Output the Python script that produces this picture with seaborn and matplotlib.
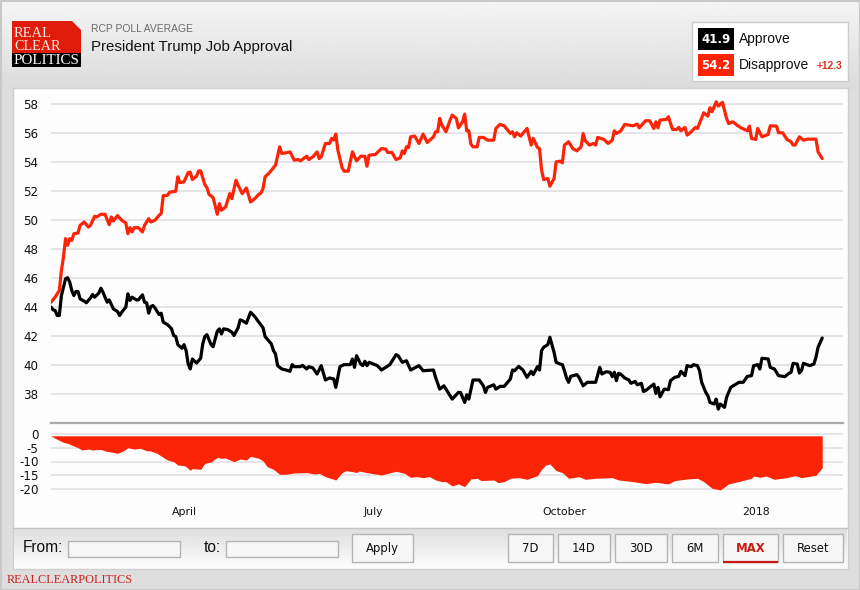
import numpy as np
import pandas as pd
import matplotlib
matplotlib.use('Agg')
import matplotlib.pyplot as plt
from matplotlib.patches import Rectangle, Polygon
import seaborn as sns

start_date = '2017-01-27'
end_date = '2018-02-12'

red_days = [0, 2, 4, 5, 6, 7, 8, 9, 10, 11,
            13, 14, 16, 18, 19, 21, 22, 24, 26, 28,
            29, 30, 32, 34, 36, 37, 38, 39, 40, 42,
            44, 45, 47, 48, 50, 52, 53, 54, 56, 57,
            60, 61, 62, 64, 66, 67, 68, 70, 71, 72,
            74, 75, 76, 78, 80, 81, 82, 84, 86, 87,
            89, 90, 92, 94, 96, 98, 100, 101, 102, 103,
            105, 108, 110, 111, 114, 115, 117, 119, 120, 123,
            124, 126, 128, 129, 130, 132, 134, 135, 136, 137,
            138, 140, 141, 143, 145, 147, 149, 151, 152, 153,
            156, 159, 161, 162, 164, 166, 168, 169, 170, 171,
            172, 173, 175, 177, 179, 181, 184, 185, 186, 187,
            188, 190, 192, 193, 195, 196, 198, 199, 200, 201,
            202, 203, 205, 206, 208, 210, 213, 214, 216, 218,
            219, 221, 222, 223, 224, 226, 227, 229, 231, 232,
            234, 235, 236, 237, 239, 240, 242, 243, 245, 246,
            247, 249, 251, 253, 255, 256, 257, 259, 261, 262,
            263, 266, 268, 270, 271, 272, 274, 276, 278, 280,
            282, 283, 286, 288, 290, 291, 292, 293, 296, 297,
            299, 301, 302, 303, 305, 306, 308, 310, 311, 314,
            316, 317, 318, 320, 321, 323, 325, 326, 328, 330,
            332, 335, 336, 337, 339, 340, 342, 345, 346, 349,
            350, 352, 354, 356, 357, 358, 360, 362, 364, 368,
            369, 371]
disapprove = [44.34, 44.69, 45.15, 46.53, 47.46, 48.73, 48.27, 48.73, 48.61, 49.07,
              49.12, 49.65, 49.88, 49.53, 49.65, 50.27, 50.23, 50.41, 50.41, 49.69,
              50.23, 49.95, 50.32, 50.0, 49.81, 49.07, 49.49, 49.19, 49.49, 49.49,
              49.19, 49.65, 50.11, 49.88, 50.0, 50.34, 50.46, 51.70, 51.72, 51.93,
              52.0, 53.0, 52.6, 52.65, 53.29, 53.32, 52.81, 53.04, 53.41, 53.41,
              52.46, 52.26, 51.79, 51.56, 50.41, 51.15, 50.69, 50.92, 51.84, 51.49,
              52.76, 52.42, 51.84, 52.23, 51.26, 51.49, 51.79, 51.88, 52.19, 53.0,
              53.27, 53.8, 55.07, 54.61, 54.68, 54.72, 54.15, 54.19, 54.10, 54.42,
              54.19, 54.38, 54.72, 54.26, 54.38, 55.30, 55.30, 55.65, 55.53, 55.95,
              54.84, 53.64, 53.39, 53.39, 54.72, 54.10, 54.42, 54.42, 53.73, 54.49,
              54.54, 54.95, 54.91, 54.68, 54.68, 54.19, 54.31, 54.79, 54.61, 55.07,
              55.02, 55.76, 55.81, 55.30, 55.95, 55.37, 55.76, 56.11, 56.11, 57.03,
              56.57, 56.11, 56.92, 57.26, 57.03, 56.38, 56.80, 57.33, 56.18, 56.18,
              55.25, 55.07, 55.07, 55.72, 55.72, 55.53, 55.53, 56.34, 56.62, 56.52,
              56.34, 56.0, 56.11, 55.76, 56.04, 55.81, 56.0, 56.34, 55.19, 55.65,
              55.02, 54.95, 53.46, 52.81, 52.88, 52.35, 52.88, 54.03, 54.08, 53.96,
              55.19, 55.42, 54.95, 54.79, 55.07, 55.99, 55.49, 55.19, 55.30, 55.19,
              55.72, 55.58, 55.30, 55.53, 56.18, 55.99, 56.15, 56.62, 56.57, 56.52,
              56.64, 56.38, 56.87, 56.87, 56.34, 56.80, 56.38, 56.92, 56.96, 57.15,
              56.27, 56.27, 56.41, 56.18, 56.41, 55.88, 56.11, 56.41, 56.34, 57.42,
              57.19, 57.77, 57.49, 58.18, 57.88, 58.14, 57.03, 56.68, 56.80, 56.57,
              56.38, 56.18, 56.50, 55.65, 55.58, 56.34, 55.76, 55.92, 56.52, 56.50,
              56.04, 56.04, 55.58, 55.42, 55.19, 55.19, 55.76, 55.53, 55.60, 55.60,
              54.72, 54.26]

black_days = [0, 1, 2, 3, 4, 5, 6, 7, 8, 9,
              10, 11, 12, 13, 14, 16, 17, 19, 20, 21,
              23, 24, 25, 27, 28, 30, 32, 33, 34, 36,
              37, 38, 39, 41, 42, 44, 45, 46, 47, 48,
              49, 50, 52, 53, 54, 56, 57, 58, 59, 60,
              61, 63, 64, 65, 66, 67, 68, 70, 72, 73,
              74, 75, 77, 78, 80, 81, 82, 83, 85, 87,
              88, 90, 91, 92, 94, 96, 98, 100, 102, 103,
              104, 106, 107, 108, 109, 111, 113, 115, 116, 117,
              120, 121, 123, 124, 126, 128, 130, 132, 134, 136,
              137, 139, 141, 144, 145, 146, 147, 149, 150, 151,
              152, 153, 157, 159, 163, 166, 167, 169, 171, 173,
              177, 179, 184, 185, 187, 189, 191, 193, 196, 197,
              199, 200, 201, 203, 206, 208, 209, 210, 213, 214,
              216, 218, 221, 222, 223, 225, 227, 229, 231, 232,
              234, 235, 236, 237, 239, 240, 242, 243, 245, 246,
              247, 248, 249, 250, 253, 254, 256, 258, 262, 264,
              265, 267, 269, 270, 271, 272, 273, 274, 276, 278,
              279, 281, 282, 284, 285, 286, 290, 291, 292, 293,
              295, 297, 298, 300, 302, 303, 305, 306, 308, 309,
              311, 312, 313, 315, 316, 317, 319, 320, 321, 322,
              324, 325, 327, 329, 331, 333, 335, 337, 338, 340,
              341, 342, 345, 346, 348, 350, 353, 355, 356, 357,
              359, 360, 361, 362, 365, 367, 368, 369, 371]
approve = [44.0, 43.81, 43.77, 43.42, 43.42, 44.80, 45.38, 45.96, 46.03, 45.73,
           45.15, 44.80, 45.08, 45.08, 44.57, 44.41, 44.30, 44.64, 44.87, 44.69,
           44.97, 45.31, 45.03, 44.34, 44.50, 43.88, 43.70, 43.42, 43.65, 44.0,
           44.92, 44.46, 44.69, 44.50, 44.50, 44.85, 44.34, 44.30, 43.58, 44.04,
           44.11, 43.95, 43.49, 43.58, 42.96, 42.80, 42.66, 42.50, 42.04, 41.97,
           41.41, 41.16, 41.41, 41.0, 40.07, 39.73, 40.42, 40.14, 40.47, 41.46,
           41.97, 42.10, 41.41, 41.27, 42.34, 42.50, 42.15, 42.50, 42.45, 42.27,
           42.04, 42.57, 43.12, 43.07, 42.89, 43.65, 43.35, 42.96, 42.57, 41.97,
           41.80, 41.46, 41.0, 40.77, 39.96, 39.73, 39.66, 39.57, 40.03, 39.89,
           39.89, 39.98, 39.73, 39.89, 39.80, 39.38, 39.96, 38.97, 39.11, 39.04,
           38.46, 39.89, 40.03, 40.03, 40.42, 39.84, 40.65, 40.07, 39.96, 40.26,
           39.96, 40.19, 39.96, 39.66, 40.03, 40.72, 40.65, 40.19, 40.30, 39.66,
           39.96, 39.61, 39.66, 39.15, 38.34, 38.57, 38.11, 37.65, 38.11, 38.11,
           37.42, 37.95, 37.65, 38.97, 38.97, 38.57, 38.11, 38.46, 38.64, 38.34,
           38.53, 38.53, 39.04, 39.66, 39.61, 39.91, 39.66, 39.15, 39.57, 39.34,
           39.89, 39.66, 41.0, 41.23, 41.41, 41.92, 40.88, 40.19, 40.07, 40.03,
           39.61, 39.11, 38.81, 39.22, 39.34, 39.15, 38.57, 38.81, 38.81, 39.84,
           39.38, 39.54, 39.50, 39.20, 39.50, 38.92, 39.43, 39.38, 39.11, 38.97,
           38.74, 38.87, 38.64, 38.74, 38.18, 38.23, 38.69, 38.04, 38.46, 37.81,
           38.34, 38.30, 38.92, 39.15, 39.22, 39.57, 39.27, 39.96, 39.89, 40.03,
           39.96, 39.61, 38.81, 38.11, 37.88, 37.42, 37.31, 37.65, 36.96, 37.31,
           37.08, 37.77, 38.46, 38.64, 38.81, 38.81, 39.22, 39.27, 39.96, 40.03,
           39.73, 40.47, 40.42, 39.84, 39.73, 39.27, 39.20, 39.43, 39.50, 40.12,
           40.07, 39.45, 39.61, 40.12, 39.96, 40.07, 40.54, 41.23, 41.87]

spread_days = [0, 3, 6, 8, 11, 13, 15, 18, 20, 24, 26, 29, 32, 35, 37, 40, 43, 46, 48, 51,
               54, 56, 59, 61, 64, 65, 67, 68, 72, 74, 77, 80, 82, 84, 88, 91, 94, 96, 100, 102,
               104, 107, 110, 113, 117, 123, 127, 129, 132, 134, 137, 140, 142, 145, 147, 148, 152, 159, 166, 170,
               173, 176, 179, 182, 185, 188, 190, 193, 196, 199, 202, 205, 207, 213, 215, 218, 221, 225, 229, 234,
               236, 238, 240, 243, 246, 249, 254, 257, 262, 270, 273, 280, 286, 291, 297, 300, 306, 311, 314, 318,
               322, 326, 332, 337, 338, 341, 344, 348, 354, 358, 361, 368, 369, 371]
spread = [-0.84, -2.04, -3.11, -3.47, -4.43, -5.03, -5.87, -5.51, -5.87, -5.63, -6.23, -6.59, -7.07, -6.11, -5.03, -5.51, -5.27, -6.11, -6.23, -7.07,
          -8.50, -9.46, -10.06, -11.26, -11.50, -11.86, -13.17, -12.57, -12.81, -10.66, -10.18, -8.50, -8.86, -8.74, -10.06, -9.10, -9.46, -8.14, -8.86, -9.82,
          -11.86, -12.81, -14.61, -14.61, -14.13, -14.01, -14.49, -14.25, -15.45, -15.93, -16.65, -14.01, -13.29, -13.65, -14.01, -13.41, -14.01, -14.85, -13.53, -14.25,
          -15.69, -15.45, -15.81, -15.45, -16.65, -17.25, -17.25, -18.80, -18.08, -19.04, -16.29, -16.05, -16.89, -16.65, -17.60, -17.25, -16.05, -15.81, -16.41, -15.09,
          -12.81, -11.26, -10.90, -13.29, -14.01, -16.05, -15.45, -16.41, -16.05, -15.81, -16.65, -17.25, -17.96, -17.49, -18.08, -16.89, -16.29, -16.05, -17.25, -19.64,
          -20.24, -18.08, -17.01, -16.05, -15.21, -15.69, -15.21, -16.41, -15.81, -15.09, -15.81, -14.97, -14.0, -12.3]

main_ticks = [58, 56, 54, 52, 50, 48, 46, 44, 42, 40, 38]
spread_ticks = [0, -5, -10, -15, -20]
month_dates = ['2017-04-01', '2017-07-01', '2017-10-01', '2018-01-01']
month_labels = ['April', 'July', 'October', '2018']
ranges = ['7D', '14D', '30D', '6M', 'MAX', 'Reset']

RED = '#fb2406'
W, H = 860, 590
sns.set_theme(style='white')
plt.rcParams['font.family'] = ['DejaVu Sans']
plt.rcParams['axes.unicode_minus'] = False


def to_dates(days):
    return pd.Timestamp(start_date) + pd.to_timedelta(days, unit='D')


def box(ax, x0, y0, x1, y1, fc='#f6f6f6', ec='#b4b4b4', lw=1.0, z=2):
    ax.add_patch(Rectangle((x0, y0), x1 - x0, y1 - y0, fc=fc, ec=ec, lw=lw, zorder=z))


def gradient(ax, x0, y0, x1, y1, c0, c1, z=1):
    g = np.linspace(c0, c1, 64).reshape(-1, 1)
    ax.imshow(g, extent=(x0, x1, y1, y0), cmap='gray', vmin=0, vmax=1, aspect='auto', zorder=z)


fig = plt.figure(figsize=(W / 100, H / 100), dpi=100)

# page furniture, in pixel coordinates
bg = fig.add_axes([0, 0, 1, 1], zorder=0)
gradient(bg, 0, 0, W, 90, 0.96, 0.86)
gradient(bg, 0, 90, W, H, 0.87, 0.87)
bg.add_patch(Rectangle((0.5, 0.5), W - 1, H - 1, fc='none', ec='#c8c8c8', lw=1.5, zorder=2))
box(bg, 13, 88, 848, 569, fc='#fdfdfe', ec='#cfcfcf', z=2)
gradient(bg, 14, 528, 847, 568, 0.87, 0.99, z=3)
bg.plot([13, 848], [528, 528], color='#c4c4c4', lw=1, zorder=4)

# logo
bg.add_patch(Polygon([(12, 21), (72, 21), (81, 30), (81, 53), (12, 53)], fc='#df1c0a', ec='none', zorder=4))
box(bg, 12, 53, 81, 67, fc='black', ec='none', lw=0, z=4)
bg.text(14, 33.5, 'REAL', family='Liberation Serif', fontsize=10.5, color='#f7e3df', va='center', zorder=5)
bg.text(14, 47, 'CLEAR', family='Liberation Serif', fontsize=10.2, color='#f7e3df', va='center', zorder=5)
bg.text(14, 60.5, 'POLITICS', family='Liberation Serif', fontsize=10.8, color='white', va='center', zorder=5)

bg.text(91, 28.5, 'RCP POLL AVERAGE', family='Liberation Sans', fontsize=7.4, color='#6a6a6a', va='center', zorder=5)
bg.text(91, 47.5, 'President Trump Job Approval', family='Liberation Sans', fontsize=10.8, color='#111111', va='center', zorder=5)

# legend box
box(bg, 692, 22, 848, 81, fc='white', ec='#cccccc', z=4)
box(bg, 698, 28, 734, 50, fc='black', ec='none', lw=0, z=5)
box(bg, 698, 54, 734, 76, fc=RED, ec='none', lw=0, z=5)
bg.text(716, 39.5, '41.9', color='white', fontweight='bold', fontsize=8.5, ha='center', va='center', zorder=6)
bg.text(716, 65.5, '54.2', color='white', fontweight='bold', fontsize=8.5, ha='center', va='center', zorder=6)
bg.text(739, 39, 'Approve', family='Liberation Sans', fontsize=10, color='#111111', va='center', zorder=6)
bg.text(739, 65, 'Disapprove', family='Liberation Sans', fontsize=10, color='#111111', va='center', zorder=6)
bg.text(817, 66, '+12.3', family='Liberation Sans', fontweight='bold', fontsize=7.4, color='#d9341e', va='center', zorder=6)

# footer controls
bg.text(23, 547.5, 'From:', family='Liberation Sans', fontsize=11.2, color='#111111', va='center', zorder=6)
box(bg, 68, 540.5, 180, 557, z=5)
bg.text(204, 547.5, 'to:', family='Liberation Sans', fontsize=11.2, color='#111111', va='center', zorder=6)
box(bg, 226, 540.5, 338, 557, z=5)
box(bg, 352, 534, 413, 562, z=5)
bg.text(382.5, 548.5, 'Apply', fontsize=8.4, color='#111111', ha='center', va='center', zorder=6)

button_edges = [(508, 553), (558, 610), (615, 667), (672, 718), (723, 778), (783, 843)]
for label, (x0, x1) in zip(ranges, button_edges):
    box(bg, x0, 534, x1, 562, z=5)
    if label == 'MAX':
        bg.plot([x0, x1], [562, 562], color='#c41c14', lw=1.6, zorder=7, solid_capstyle='butt')
        bg.text((x0 + x1) / 2, 548.5, label, fontsize=8.4, fontweight='bold', color='#c41c14', ha='center', va='center', zorder=6)
    else:
        bg.text((x0 + x1) / 2, 548.5, label, fontsize=8.4, color='#111111', ha='center', va='center', zorder=6)

bg.text(7, 580, 'REALCLEARPOLITICS', family='Liberation Serif', fontsize=8.8, color='#c8201c', va='center', zorder=6)
bg.set_xlim(0, W)
bg.set_ylim(H, 0)
bg.axis('off')


def add_axes_px(x0, y0, x1, y1):
    return fig.add_axes([x0 / W, 1 - y1 / H, (x1 - x0) / W, (y1 - y0) / H], zorder=5)


xlim = (pd.Timestamp(start_date), pd.Timestamp(end_date))

# poll averages
ax = add_axes_px(51, 97, 843, 423)
ax.patch.set_alpha(0)
ax.set_axisbelow(True)
ax.yaxis.grid(True, color='#e0e0e4', lw=1.2)
ax.xaxis.grid(False)
sns.lineplot(x=to_dates(red_days), y=disapprove, ax=ax, color=RED, linewidth=2.3, solid_joinstyle='round', estimator=None)
sns.lineplot(x=to_dates(black_days), y=approve, ax=ax, color='black', linewidth=2.3, solid_joinstyle='round', estimator=None)
ax.set_xlim(xlim)
ax.set_ylim(36.0, 58.51)
ax.set_yticks(main_ticks)
ax.set_xticks([])
ax.set_xlabel('')
ax.set_ylabel('')
ax.tick_params(axis='y', length=0, pad=9, labelsize=8.6, labelcolor='#111111')
sns.despine(ax=ax, left=True, top=True, right=True)
ax.spines['bottom'].set_color('#aaaaaa')
ax.spines['bottom'].set_linewidth(1.6)

# spread panel
ax2 = add_axes_px(51, 429, 843, 494)
ax2.patch.set_alpha(0)
ax2.set_axisbelow(True)
ax2.yaxis.grid(True, color='#e0e0e4', lw=1.1)
ax2.xaxis.grid(False)
ax2.fill_between(to_dates(spread_days), -0.75, spread, color=RED, lw=0, where=np.array(spread) < -0.75)
ax2.set_xlim(xlim)
ax2.set_ylim(-21.7, 1.7)
ax2.set_yticks(spread_ticks)
ax2.set_xticks(pd.to_datetime(month_dates))
ax2.set_xticklabels(month_labels)
ax2.tick_params(axis='y', length=0, pad=9, labelsize=8.6, labelcolor='#111111')
ax2.tick_params(axis='x', length=0, pad=9.5, labelsize=7.8, labelcolor='#111111')
sns.despine(ax=ax2, left=True, top=True, right=True, bottom=True)

fig.savefig('out.png', dpi=100)
